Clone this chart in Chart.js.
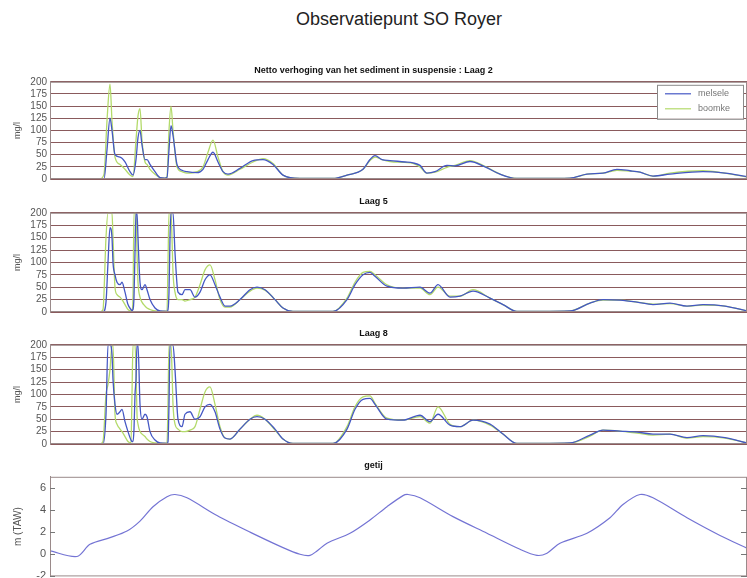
<!DOCTYPE html>
<html>
<head>
<meta charset="utf-8">
<script src="https://cdn.jsdelivr.net/npm/chart.js@4"></script>
<style>
  html, body { margin: 0; padding: 0; background: #fff; overflow: hidden; }
  body { width: 747px; height: 578px; position: relative; }
  #title { position: absolute; left: 296px; top: 9px; font: 18px "Liberation Sans", Arial, sans-serif; color: #222; white-space: nowrap; }
  canvas { position: absolute; left: 0; }
</style>
</head>
<body>
<div id="title">Observatiepunt SO Royer</div>
<canvas id="c1" width="747" height="128" style="top:61px"></canvas>
<canvas id="c2" width="747" height="130" style="top:192px"></canvas>
<canvas id="c3" width="747" height="130" style="top:324px"></canvas>
<canvas id="c4" width="747" height="131" style="top:456px"></canvas>
<script>
// tijdas (horizontale positie binnen de grafiek)
const laag2X = [0,25,50,54,57,60,62,65,70,75, 80,83,86,88,90,92,95,97,100,105,
  110,115,117,119,121,123,127,132,137,147, 153,158,163,168,173,178,190,203,213,223,
  233,250,283,297,313,320,325,332,340,355, 363,370,377,385,397,405,420,435,450,467,
  490,520,537,553,567,580,590,603,620,653, 675,697];
const laag2Melsele = [0,0,0,0,60,125,100,50,45,35, 15,8,40,85,100,70,40,40,30,15,
  3,2,3,60,110,90,30,18,15,13, 20,40,55,35,15,10,22,38,40,30,
  8,1,1,8,20,40,48,40,38,35, 33,28,12,15,28,27,36,25,10,1,
  1,2,10,12,20,17,14,6,10,15, 12,5];
const laag2Boomke = [0,0,0,10,120,195,120,45,30,20, 8,5,80,130,145,80,35,30,20,10,
  3,2,5,100,150,100,25,15,12,15, 25,55,80,45,15,8,20,35,42,32,
  8,1,1,8,20,38,45,40,36,34, 32,25,12,14,24,28,38,26,10,1,
  1,2,10,12,18,16,14,6,12,17, 12,4];

const diepX = [0,25,50,53,56,58,60,62,63,65, 67,70,72,75,78,81,82,83,84,85,
  86,87,88,90,92,95,97,100,105,110, 117,118,119,120,121,122,123,125,128,132,
  135,140,145,150,155,160,165,170,175,180, 190,200,207,215,225,233,243,283,297,305,
  313,320,325,337,353,370,380,388,400,410, 423,440,453,467,490,520,540,553,570,587,
  603,620,637,653,675,697];
const laag5Melsele = [0,0,0,0,20,100,170,150,100,75, 60,55,60,40,15,5,3,5,30,120,
  200,200,150,60,45,55,45,25,8,2, 1,5,40,150,200,200,200,120,40,35,
  45,45,30,40,65,75,55,30,12,12, 25,45,50,45,25,8,1,1,25,55,
  75,80,72,52,48,50,38,55,30,32, 42,28,15,1,1,2,18,25,24,20,
  15,18,12,15,12,2];
const laag5Boomke = [0,0,0,5,150,200,200,200,150,50, 35,30,25,15,5,2,2,30,200,200,
  200,120,60,30,20,12,8,5,2,1, 2,100,200,200,200,150,80,40,25,25,
  22,25,30,55,85,95,65,25,10,10, 25,42,48,44,25,8,1,1,28,60,
  80,82,75,55,48,48,35,50,32,32, 45,28,15,1,1,2,18,24,24,20,
  16,17,12,14,12,2];
const laag8Melsele = [0,0,0,0,60,200,200,180,130,80, 60,65,70,45,25,8,5,5,30,100,
  130,200,200,80,50,60,55,25,8,2, 1,5,80,200,200,200,200,150,50,35,
  60,65,50,55,75,80,65,30,12,10, 30,50,55,50,30,10,1,1,30,70,
  90,92,80,50,48,58,45,60,38,35, 48,40,20,1,1,2,18,28,26,24,
  20,20,13,17,13,2];
const laag8Boomke = [0,0,0,5,100,120,150,200,200,60, 40,30,25,15,5,2,100,200,200,200,
  150,60,40,25,20,15,10,5,2,1, 2,80,200,200,200,150,80,40,30,25,
  25,28,35,70,105,115,80,35,12,10, 30,50,58,50,28,10,1,1,35,75,
  95,97,82,52,48,55,42,75,40,35, 48,38,20,1,1,2,16,28,26,22,
  18,20,12,15,12,2];

const getijX = [0,27,40,60,77,90,103,117,125,137, 167,200,233,250,260,267,277,300,320,337,
  353,358,370,403,437,470,487,497,510,537, 560,573,590,603,637,670,697];
const getijHoogte = [0.3,-0.2,0.9,1.5,2.1,3.0,4.3,5.2,5.4,5.1, 3.5,2.0,0.6,0,-0.1,0.3,1.0,1.9,3.1,4.3,
  5.3,5.4,5.1,3.4,1.9,0.45,-0.1,0.1,1.0,1.9, 3.3,4.5,5.4,5.1,3.3,1.7,0.55];

const blauw = '#4457c4';
const groen = '#b3da6a';
const rasterKleur = '#8a5a5c';
const kaderKleur = '#9a8a8a';
const tickFont = { family: '"Liberation Sans Narrow", "Liberation Sans", Arial, sans-serif', size: 10, lineHeight: 1 };

function punten(xs, ys) {
  return xs.map((x, i) => ({ x: x, y: ys[i] }));
}

// kader rond het plotgebied
const kader = {
  id: 'kader',
  afterDatasetsDraw(chart) {
    const a = chart.chartArea, ctx = chart.ctx;
    ctx.save();
    ctx.strokeStyle = kaderKleur;
    ctx.lineWidth = 1;
    ctx.strokeRect(a.left + 0.5, a.top + 0.5, a.right - a.left - 1, a.bottom - a.top - 1);
    ctx.restore();
  }
};

// legende binnen het plotgebied (rechtsboven)
const legendeKader = {
  id: 'legendeKader',
  afterDatasetsDraw(chart, args, opts) {
    if (!opts.show) return;
    const a = chart.chartArea, ctx = chart.ctx;
    const w = 86, h = 34;
    const x = a.right - w - 4, y = a.top + 3;
    ctx.save();
    ctx.fillStyle = '#fff';
    ctx.fillRect(x, y, w, h);
    ctx.strokeStyle = '#8a8a8a';
    ctx.strokeRect(x + 0.5, y + 0.5, w, h);
    ctx.font = '9px "Liberation Sans", Arial, sans-serif';
    ctx.textBaseline = 'middle';
    chart.data.datasets.forEach((ds, i) => {
      const ly = y + 9 + i * 15;
      ctx.strokeStyle = ds.borderColor;
      ctx.lineWidth = 1.2;
      ctx.beginPath();
      ctx.moveTo(x + 8, ly);
      ctx.lineTo(x + 34, ly);
      ctx.stroke();
      ctx.fillStyle = '#777';
      ctx.fillText(ds.label, x + 41, ly);
    });
    ctx.restore();
  }
};

// korte streepjes naar binnen op linker- en rechterrand
const binnenTicks = {
  id: 'binnenTicks',
  afterDatasetsDraw(chart, args, opts) {
    if (!opts.show) return;
    const a = chart.chartArea, ctx = chart.ctx, sy = chart.scales.y;
    ctx.save();
    ctx.strokeStyle = '#777';
    ctx.lineWidth = 1;
    sy.ticks.forEach(t => {
      const py = Math.round(sy.getPixelForValue(t.value)) + 0.5;
      ctx.beginPath();
      ctx.moveTo(a.left, py); ctx.lineTo(a.left + 5, py);
      ctx.moveTo(a.right, py); ctx.lineTo(a.right - 6, py);
      ctx.stroke();
    });
    ctx.restore();
  }
};

function sedimentGrafiek(id, titel, xs, melsele, boomke, metLegende) {
  return new Chart(document.getElementById(id), {
    type: 'line',
    data: {
      datasets: [
        { label: 'melsele', data: punten(xs, melsele), borderColor: blauw, borderWidth: 1.3 },
        { label: 'boomke', data: punten(xs, boomke), borderColor: groen, borderWidth: 1.3 }
      ]
    },
    options: {
      responsive: false,
      animation: false,
      layout: { padding: { top: 4, bottom: 10, left: 0, right: 0 } },
      elements: { point: { radius: 0 }, line: { cubicInterpolationMode: 'monotone' } },
      plugins: {
        legend: { display: false },
        tooltip: { enabled: false },
        title: {
          display: true, text: titel, color: '#111',
          font: { family: '"Liberation Sans", Arial, sans-serif', size: 9, weight: 'bold' },
          padding: { top: 0, bottom: 6 }
        },
        legendeKader: { show: metLegende },
        binnenTicks: { show: false }
      },
      scales: {
        x: { type: 'linear', min: 0, max: 697, display: false },
        y: {
          min: 0, max: 200,
          ticks: { stepSize: 25, autoSkip: false, maxTicksLimit: 20, font: tickFont, color: '#555', padding: 3 },
          grid: { color: rasterKleur, drawTicks: false, lineWidth: 1 },
          border: { display: true, color: kaderKleur },
          title: { display: true, text: 'mg/l', color: '#555', font: { size: 9 }, padding: { top: 12, bottom: 0 } },
          afterFit: s => { s.width = 50; }
        }
      }
    },
    plugins: [kader, legendeKader, binnenTicks]
  });
}

sedimentGrafiek('c1', 'Netto verhoging van het sediment in suspensie : Laag 2', laag2X, laag2Melsele, laag2Boomke, true);
sedimentGrafiek('c2', 'Laag 5', diepX, laag5Melsele, laag5Boomke, false);
sedimentGrafiek('c3', 'Laag 8', diepX, laag8Melsele, laag8Boomke, false);

new Chart(document.getElementById('c4'), {
  type: 'line',
  data: {
    datasets: [{ label: 'getij', data: punten(getijX, getijHoogte), borderColor: '#7474d4', borderWidth: 1.2 }]
  },
  options: {
    responsive: false,
    animation: false,
    layout: { padding: { top: 4, bottom: 10, left: 0, right: 0 } },
    elements: { point: { radius: 0 }, line: { tension: 0.3 } },
    plugins: {
      legend: { display: false },
      tooltip: { enabled: false },
      title: {
        display: true, text: 'getij', color: '#111',
        font: { family: '"Liberation Sans", Arial, sans-serif', size: 9, weight: 'bold' },
        padding: { top: 0, bottom: 6 }
      },
      legendeKader: { show: false },
      binnenTicks: { show: true }
    },
    scales: {
      x: { type: 'linear', min: 0, max: 697, display: false },
      y: {
        min: -2, max: 7,
        ticks: { stepSize: 2, font: { family: tickFont.family, size: 11 }, color: '#555', padding: 4 },
        afterBuildTicks: s => { s.ticks = s.ticks.filter(t => t.value % 2 === 0); },
        grid: { drawOnChartArea: false, drawTicks: false },
        border: { display: true, color: kaderKleur },
        title: { display: true, text: 'm (TAW)', color: '#555', font: { size: 10 }, padding: { top: 12, bottom: 0 } },
        afterFit: s => { s.width = 50; }
      }
    }
  },
  plugins: [kader, legendeKader, binnenTicks]
});
</script>
</body>
</html>
